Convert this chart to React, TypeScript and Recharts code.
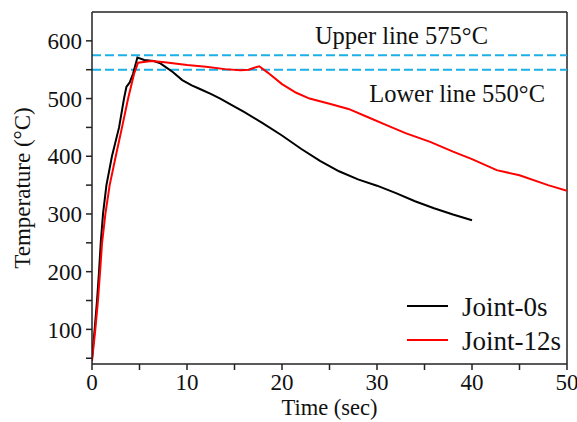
import React from 'react';
import {
  LineChart,
  Line,
  XAxis,
  YAxis,
  ReferenceLine,
  Legend
} from 'recharts';

// Joint-0s (black) readings
const joint0sTime = [0, 0.28, 0.53, 0.74, 0.92, 1.16, 1.52, 2.1, 2.85, 3.37, 3.62, 3.97, 4.32, 4.78, 5.5, 6.5, 7.2, 7.8, 8.5, 9.5, 10.5, 11.3, 12.5, 13.5, 15, 16, 18, 20, 22, 24, 26, 28, 30, 32, 34, 36, 38, 40];
const joint0sTemp = [50, 100, 150, 200, 250, 300, 350, 400, 450, 500, 520, 528, 543, 571, 567, 565, 561, 554, 546, 532, 523, 517, 508, 500, 486, 477, 457, 436, 413, 392, 374, 360, 349, 336, 322, 310, 299, 289];

// Joint-12s (red) readings
const joint12sTime = [0, 0.35, 0.63, 0.85, 1.06, 1.41, 1.86, 2.5, 3.16, 3.8, 4.43, 4.85, 6.26, 7.66, 10, 12, 14, 15.6, 16.5, 17, 17.6, 18.5, 20, 21.5, 22.9, 25, 27, 29, 31, 33, 35.6, 38, 40, 42.6, 45, 48, 50];
const joint12sTemp = [45, 100, 150, 200, 250, 300, 350, 400, 450, 500, 543, 562, 565, 563, 558, 555, 551, 549, 550, 553, 556, 545, 525, 510, 500, 491, 482, 468, 454, 440, 425, 408, 395, 376, 367, 350, 340];

const xTicks = [0, 5, 10, 15, 20, 25, 30, 35, 40, 45, 50];
const yTicks = [50, 100, 150, 200, 250, 300, 350, 400, 450, 500, 550, 600];
const upperLimit = 575;
const lowerLimit = 550;

const joint0s = joint0sTime.map((t, i) => ({ t, temp: joint0sTemp[i] }));
const joint12s = joint12sTime.map((t, i) => ({ t, temp: joint12sTemp[i] }));

const FONT = '"Liberation Serif", "Times New Roman", serif';
const AXIS = '#222';

const XTick = (props: any) => {
  const { x, y, payload } = props;
  if (payload.value % 10 !== 0) return null;
  return (
    <text x={x} y={y} dy="0.71em" textAnchor="middle" fill="#111" fontSize={23} fontFamily={FONT}>
      {payload.value}
    </text>
  );
};

const YTick = (props: any) => {
  const { x, y, payload } = props;
  if (payload.value % 100 !== 0) return null;
  return (
    <text x={x} y={y} dy="0.355em" textAnchor="end" fill="#111" fontSize={23} fontFamily={FONT}>
      {payload.value}
    </text>
  );
};

const LimitLabel = ({ viewBox, text, dx, dy }: any) => (
  <text
    x={viewBox.x + viewBox.width - dx}
    y={viewBox.y + dy}
    textAnchor="end"
    fill="#111"
    fontSize={24.5}
    fontFamily={FONT}
  >
    {text}
  </text>
);

const LegendBox = () => {
  const items = [
    { name: 'Joint-0s', color: '#000' },
    { name: 'Joint-12s', color: '#ff0000' }
  ];
  return (
    <svg width={175} height={70} style={{ display: 'block' }}>
      {items.map((it, i) => (
        <g key={it.name}>
          <line x1={7} x2={48} y1={16 + i * 34} y2={16 + i * 34} stroke={it.color} strokeWidth={2} />
          <text x={62} y={16 + i * 34} dy="0.355em" fill="#111" fontSize={27} fontFamily={FONT}>
            {it.name}
          </text>
        </g>
      ))}
    </svg>
  );
};

export default function App() {
  return (
    <div style={{ position: 'absolute', left: 0, top: 0, background: '#fff' }}>
      <LineChart width={577} height={422} margin={{ top: 12, right: 10, bottom: 0, left: 0 }}>
        <XAxis
          type="number"
          dataKey="t"
          domain={[0, 50]}
          ticks={xTicks}
          tick={<XTick />}
          tickSize={6}
          tickMargin={4}
          height={58}
          stroke={AXIS}
          strokeWidth={1.5}
          allowDataOverflow
          label={{ value: 'Time (sec)', position: 'insideBottom', offset: 7, fill: '#111', fontSize: 22.5, fontFamily: FONT }}
        />
        <YAxis
          type="number"
          domain={[40, 650]}
          ticks={yTicks}
          tick={<YTick />}
          tickSize={6}
          tickMargin={4}
          width={92}
          stroke={AXIS}
          strokeWidth={1.5}
          allowDataOverflow
          label={{
            value: 'Temperature (°C)',
            angle: -90,
            position: 'insideLeft',
            offset: 22,
            fill: '#111',
            fontSize: 23,
            fontFamily: FONT,
            style: { textAnchor: 'middle' }
          }}
        />
        <ReferenceLine y={650} stroke={AXIS} strokeWidth={1.5} />
        <ReferenceLine x={50} stroke={AXIS} strokeWidth={1.5} />
        <ReferenceLine
          y={upperLimit}
          stroke="#1cb0e6"
          strokeWidth={2}
          strokeDasharray="9 4"
          label={(p: any) => <LimitLabel {...p} text="Upper line 575°C" dx={79} dy={-11} />}
        />
        <ReferenceLine
          y={lowerLimit}
          stroke="#1cb0e6"
          strokeWidth={2}
          strokeDasharray="9 4"
          label={(p: any) => <LimitLabel {...p} text="Lower line 550°C" dx={22} dy={32} />}
        />
        <Line
          data={joint0s}
          dataKey="temp"
          name="Joint-0s"
          type="linear"
          stroke="#000"
          strokeWidth={2}
          dot={false}
          isAnimationActive={false}
        />
        <Line
          data={joint12s}
          dataKey="temp"
          name="Joint-12s"
          type="linear"
          stroke="#ff0000"
          strokeWidth={2}
          dot={false}
          isAnimationActive={false}
        />
        <Legend
          layout="vertical"
          align="center"
          verticalAlign="middle"
          content={<LegendBox />}
          wrapperStyle={{ position: 'absolute', left: 400, top: 290, width: 175, height: 70, margin: 0 }}
        />
      </LineChart>
    </div>
  );
}
